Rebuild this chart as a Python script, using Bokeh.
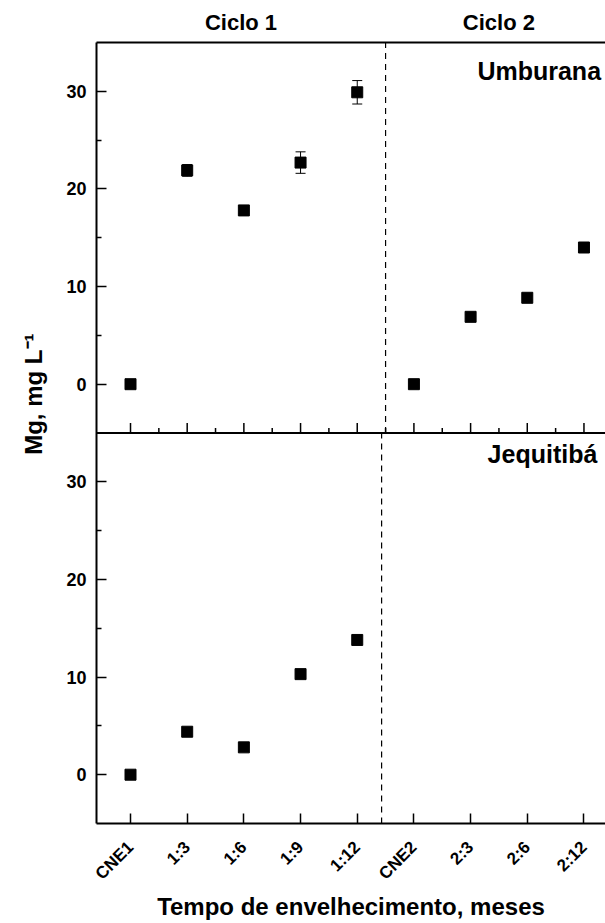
from math import pi
from bokeh.plotting import figure
from bokeh.models import (Range1d, LinearAxis, FixedTicker, Label, Whisker,
                          ColumnDataSource, TeeHead, Span, Title)
from bokeh.embed import file_html
from bokeh.resources import INLINE

# ---------------- data ----------------
categories = ["CNE1", "1:3", "1:6", "1:9", "1:12", "CNE2", "2:3", "2:6", "2:12"]
cycle1_categories = ["CNE1", "1:3", "1:6", "1:9", "1:12"]
umburana = [0.0, 21.9, 17.8, 22.7, 29.9, 0.0, 6.9, 8.85, 14.0]
umburana_err = [0.2, 0.6, 0.3, 1.1, 1.2, 0.2, 0.2, 0.2, 0.2]
jequitiba = [0.0, 4.4, 2.8, 10.3, 13.8]
y_ticks = [0, 10, 20, 30]
y_minor = [5, 15, 25]
panel_lo, panel_hi = -5, 35
cycle_labels = ["Ciclo 1", "Ciclo 2"]
cycle_label_pos = [1.95, 6.5]
panel_names = ["Umburana", "Jequitibá"]
y_label = "Mg, mg L⁻¹"
x_label = "Tempo de envelhecimento, meses"

FONT = "Liberation Sans"
BLACK = "#000000"
span = panel_hi - panel_lo

xpos = list(range(len(categories)))
x_index = {c: i for i, c in enumerate(categories)}
jeq_x = [x_index[c] for c in cycle1_categories]
boundary = len(cycle1_categories) - 0.5

p = figure(width=605, height=923, output_backend="svg", toolbar_location=None,
           x_range=Range1d(-0.6, 8.38), y_range=Range1d(panel_lo, panel_hi + span),
           x_axis_type=None, y_axis_type=None,
           min_border_left=96, min_border_right=0, min_border_top=42, min_border_bottom=100)
p.extra_y_ranges = {"top": Range1d(panel_lo - span, panel_hi)}
p.outline_line_color = None
p.xgrid.visible = False
p.ygrid.visible = False
p.background_fill_color = "white"
p.border_fill_color = "white"

# left axis: both panels share one axis; upper half relabelled
ticks = y_ticks + [t + span for t in y_ticks]
minors = y_minor + [t + span for t in y_minor]
overrides = {t + span: str(t) for t in y_ticks}
overrides.update({t: str(t) for t in y_ticks})
yax = LinearAxis(ticker=FixedTicker(ticks=ticks, minor_ticks=minors),
                 major_label_overrides=overrides)
yax.axis_line_width = 2
yax.major_tick_in = 10
yax.major_tick_out = 0
yax.minor_tick_in = 5
yax.minor_tick_out = 0
yax.major_tick_line_width = 1.5
yax.minor_tick_line_width = 1.5
yax.major_label_text_font = FONT
yax.major_label_text_font_style = "bold"
yax.major_label_text_font_size = "18px"
yax.major_label_text_color = BLACK
yax.major_label_standoff = 10
p.add_layout(yax, "left")

# y label as a left-side title (positioned along the axis)
p.add_layout(Title(text=y_label, align="right", offset=291, vertical_align="bottom",
                   standoff=34, text_font=FONT, text_font_style="bold",
                   text_font_size="24px", text_color=BLACK), "left")

# bottom axis
xax = LinearAxis(ticker=FixedTicker(ticks=xpos, minor_ticks=[]),
                 major_label_overrides={i: c for i, c in enumerate(categories)})
xax.axis_line_width = 2
xax.major_tick_in = 10
xax.major_tick_out = 0
xax.major_tick_line_width = 1.5
xax.major_label_orientation = pi / 4
xax.major_label_text_font = FONT
xax.major_label_text_font_style = "bold"
xax.major_label_text_font_size = "17px"
xax.major_label_text_color = BLACK
xax.major_label_standoff = 21
xax.axis_label = x_label
xax.axis_label_text_font = FONT
xax.axis_label_text_font_style = "bold"
xax.axis_label_text_font_size = "24px"
xax.axis_label_text_color = BLACK
xax.axis_label_standoff = 0
p.add_layout(xax, "below")

# top border line carrying the cycle captions
tax = LinearAxis(ticker=FixedTicker(ticks=cycle_label_pos, minor_ticks=[]),
                 major_label_overrides={pos: t for pos, t in zip(cycle_label_pos, cycle_labels)})
tax.axis_line_width = 2
tax.major_tick_in = 0
tax.major_tick_out = 0
tax.major_label_standoff = 8
tax.major_label_text_font = FONT
tax.major_label_text_font_style = "bold"
tax.major_label_text_font_size = "22px"
tax.major_label_text_color = BLACK
p.add_layout(tax, "above")

# separator between panels with inward ticks
p.add_layout(Span(location=panel_hi, dimension="width", line_color="black", line_width=2))
px_per_unit = 781 / (2 * span)
p.segment(x0=xpos, x1=xpos, y0=[panel_hi] * len(xpos),
          y1=[panel_hi + 10 / px_per_unit] * len(xpos), line_color="black", line_width=1.5)
half = [i + 0.5 for i in xpos[:-1]]
p.segment(x0=half, x1=half, y0=[panel_hi] * len(half),
          y1=[panel_hi + 5 / px_per_unit] * len(half), line_color="black", line_width=1.5)

# dashed cycle dividers
p.segment(x0=[boundary], x1=[boundary], y0=[panel_lo], y1=[panel_hi],
          y_range_name="top", line_color="black", line_width=1.2, line_dash="6 5")
p.segment(x0=[boundary - 0.07], x1=[boundary - 0.07], y0=[panel_lo], y1=[panel_hi],
          line_color="black", line_width=1.2, line_dash="6 5")

# top panel data
src = ColumnDataSource(dict(x=xpos, y=umburana,
                            upper=[v + e for v, e in zip(umburana, umburana_err)],
                            lower=[v - e for v, e in zip(umburana, umburana_err)]))
wh = Whisker(source=src, base="x", upper="upper", lower="lower", y_range_name="top",
             line_color="black", line_width=1,
             upper_head=TeeHead(size=10, line_width=1, line_color="black"),
             lower_head=TeeHead(size=10, line_width=1, line_color="black"))
p.add_layout(wh)
p.scatter("x", "y", source=src, marker="square", size=11, color="black", y_range_name="top")

# bottom panel data
p.scatter(jeq_x, jequitiba, marker="square", size=11, color="black")

# panel names
p.add_layout(Label(x=6.12, y=32.1, y_range_name="top", text=panel_names[0],
                   text_align="left", text_baseline="middle", text_color=BLACK,
                   text_font=FONT, text_font_style="bold", text_font_size="25px"))
p.add_layout(Label(x=6.3, y=32.85, text=panel_names[1],
                   text_align="left", text_baseline="middle", text_color=BLACK,
                   text_font=FONT, text_font_style="bold", text_font_size="25px"))

open("out.html", "w").write(file_html(p, INLINE))
